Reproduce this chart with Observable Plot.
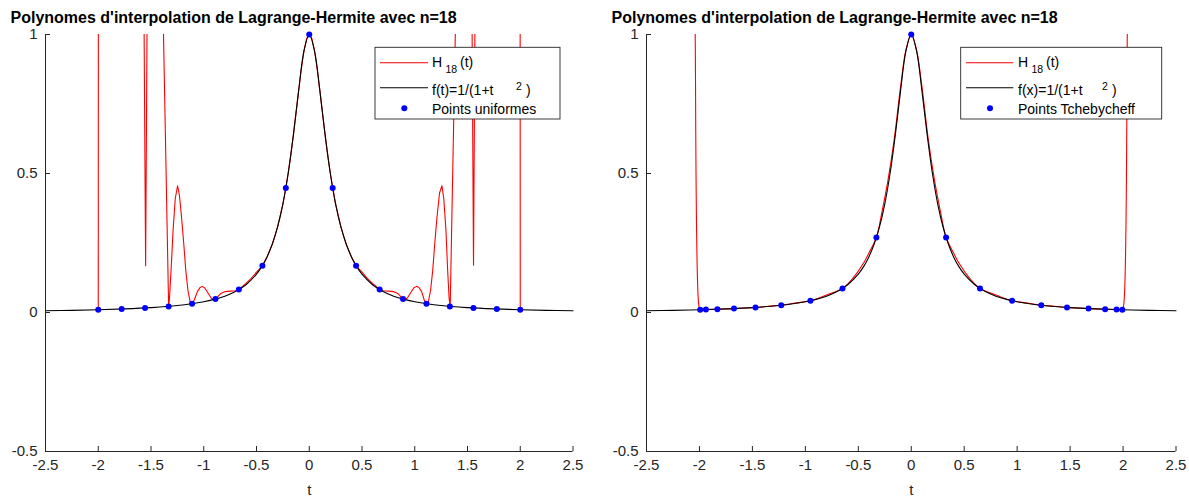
<!DOCTYPE html>
<html>
<head>
<meta charset="utf-8">
<script src="https://cdn.jsdelivr.net/npm/d3@7"></script>
<script src="https://cdn.jsdelivr.net/npm/@observablehq/plot@0.6"></script>
<style>
  body { margin: 0; background: #fff; }
  #wrap { position: relative; width: 1189px; height: 497px; overflow: hidden; background: #fff; }
  .panel { position: absolute; top: 0; }
</style>
</head>
<body>
<div id="wrap"></div>
<script>
// ---------- text ----------
const titleText = "Polynomes d'interpolation de Lagrange-Hermite avec n=18";
const xLabel = "t";
const xTicks = [-2.5, -2, -1.5, -1, -0.5, 0, 0.5, 1, 1.5, 2, 2.5];
const yTicks = [-0.5, 0, 0.5, 1];
const legendH = ["H", "18", "(t)"];
const legendFLeft = ["f(t)=1/(1+t", "2", ")"];
const legendFRight = ["f(x)=1/(1+t", "2", ")"];
const legendPtsLeft = "Points uniformes";
const legendPtsRight = "Points Tchebycheff";

// ---------- black curve f(t) ----------
const fT = [-2.5, -2.25, -2, -1.75, -1.5, -1.25, -1, -0.9, -0.8, -0.7, -0.6, -0.5, -0.45, -0.4, -0.35, -0.3, -0.25, -0.2, -0.15, -0.1, -0.05, 0,
            0.05, 0.1, 0.15, 0.2, 0.25, 0.3, 0.35, 0.4, 0.45, 0.5, 0.6, 0.7, 0.8, 0.9, 1, 1.25, 1.5, 1.75, 2, 2.25, 2.5];
const fY = [0.0064, 0.0078, 0.0099, 0.0129, 0.0175, 0.0250, 0.0385, 0.0471, 0.0588, 0.0755, 0.1000, 0.1379, 0.1649, 0.2000, 0.2462, 0.3077, 0.3902, 0.5000, 0.6400, 0.8000, 0.9412, 1.0000,
            0.9412, 0.8000, 0.6400, 0.5000, 0.3902, 0.3077, 0.2462, 0.2000, 0.1649, 0.1379, 0.1000, 0.0755, 0.0588, 0.0471, 0.0385, 0.0250, 0.0175, 0.0129, 0.0099, 0.0078, 0.0064];

// ---------- left: uniform nodes ----------
const uniT = [-2, -1.778, -1.556, -1.333, -1.111, -0.889, -0.667, -0.444, -0.222, 0, 0.222, 0.444, 0.667, 0.889, 1.111, 1.333, 1.556, 1.778, 2];
const uniY = [0.0099, 0.0125, 0.0163, 0.0220, 0.0314, 0.0482, 0.0826, 0.1685, 0.4475, 1, 0.4475, 0.1685, 0.0826, 0.0482, 0.0314, 0.0220, 0.0163, 0.0125, 0.0099];

// ---------- left: H18 (values above 1 are off the chart) ----------
const redLT = [-2.000, -1.999, -1.566, -1.551, -1.537, -1.384, -1.333, -1.325, -1.310, -1.290, -1.270, -1.248, -1.230, -1.210, -1.190, -1.170, -1.150, -1.130, -1.111,
               -1.090, -1.060, -1.035, -1.014, -0.990, -0.960, -0.930, -0.905, -0.889, -0.870, -0.840, -0.800, -0.750, -0.700, -0.667, -0.600, -0.550, -0.500, -0.444,
               -0.400, -0.350, -0.300, -0.250, -0.222, -0.200, -0.175, -0.150, -0.125, -0.100, -0.075, -0.050, -0.025, 0,
               0.025, 0.050, 0.075, 0.100, 0.125, 0.150, 0.175, 0.200, 0.222, 0.250, 0.300, 0.350, 0.400, 0.444, 0.500, 0.550, 0.600, 0.667,
               0.700, 0.750, 0.800, 0.840, 0.870, 0.889, 0.905, 0.930, 0.960, 0.990, 1.017, 1.040, 1.065, 1.090, 1.111, 1.130, 1.150, 1.170, 1.190, 1.210, 1.235,
               1.258, 1.275, 1.295, 1.312, 1.326, 1.336, 1.387, 1.543, 1.557, 1.571, 1.999, 2.000];
const redLY = [0.0099, 1.05, 1.05, 0.168, 1.05, 1.05, 0.022, 0.05, 0.15, 0.30, 0.41, 0.456, 0.42, 0.34, 0.25, 0.15, 0.08, 0.04, 0.031,
               0.045, 0.075, 0.090, 0.094, 0.088, 0.070, 0.052, 0.046, 0.048, 0.056, 0.068, 0.075, 0.077, 0.078, 0.083, 0.105, 0.123, 0.145, 0.168,
               0.200, 0.246, 0.308, 0.390, 0.448, 0.500, 0.566, 0.640, 0.719, 0.800, 0.877, 0.941, 0.985, 1.000,
               0.985, 0.941, 0.877, 0.800, 0.719, 0.640, 0.566, 0.500, 0.448, 0.390, 0.308, 0.246, 0.200, 0.168, 0.145, 0.123, 0.105, 0.083,
               0.078, 0.077, 0.075, 0.068, 0.056, 0.048, 0.046, 0.052, 0.070, 0.088, 0.094, 0.090, 0.075, 0.045, 0.031, 0.04, 0.08, 0.15, 0.25, 0.34, 0.43,
               0.456, 0.41, 0.30, 0.15, 0.05, 0.021, 1.05, 1.05, 0.170, 1.05, 1.05, 0.0099];

// ---------- right: Chebyshev nodes ----------
const chebT = [-1.993, -1.939, -1.831, -1.674, -1.471, -1.228, -0.952, -0.649, -0.329, 0, 0.329, 0.649, 0.952, 1.228, 1.471, 1.674, 1.831, 1.939, 1.993];
const chebY = [0.0100, 0.0105, 0.0118, 0.0141, 0.0182, 0.0258, 0.0423, 0.0867, 0.2698, 1, 0.2698, 0.0867, 0.0423, 0.0258, 0.0182, 0.0141, 0.0118, 0.0105, 0.0100];

// ---------- right: H18 ----------
const redRT = [-2.045, -2.040, -2.007, -1.993, -1.939, -1.831, -1.674, -1.471, -1.350, -1.228, -1.100, -0.952, -0.800, -0.649, -0.550, -0.450, -0.400, -0.329, -0.280, -0.220, -0.160, -0.100, -0.050, 0,
               0.050, 0.100, 0.160, 0.220, 0.280, 0.329, 0.400, 0.450, 0.550, 0.649, 0.800, 0.952, 1.100, 1.228, 1.350, 1.471, 1.674, 1.831, 1.939, 1.993, 2.007, 2.040, 2.045];
const redRY = [1.2, 1.0, 0.03, 0.0100, 0.0105, 0.0118, 0.0141, 0.0182, 0.0225, 0.0258, 0.034, 0.0423, 0.063, 0.0867, 0.124, 0.178, 0.214, 0.270, 0.355, 0.475, 0.625, 0.815, 0.945, 1.0,
               0.945, 0.815, 0.625, 0.475, 0.355, 0.270, 0.214, 0.178, 0.124, 0.0867, 0.063, 0.0423, 0.034, 0.0258, 0.0225, 0.0182, 0.0141, 0.0118, 0.0105, 0.0100, 0.03, 1.0, 1.2];

const zip = (ts, ys) => ts.map((t, i) => ({t, y: ys[i]}));
const fData = zip(fT, fY);
const FONT = "'Liberation Sans', Arial, Helvetica, sans-serif";
const AX = "#262626";
const fmt = d => String(d);

function panel(cfg) {
  const svg = Plot.plot({
    width: cfg.width,
    height: 497,
    marginLeft: cfg.ml,
    marginRight: cfg.mr,
    marginTop: 34,
    marginBottom: 46,
    x: {domain: [-2.5, 2.5]},
    y: {domain: [-0.5, 1]},
    style: {fontFamily: FONT, fontSize: "15px", color: AX, background: "transparent", overflow: "visible"},
    marks: [
      Plot.line(cfg.red, {x: "t", y: "y", stroke: "#ff0000", strokeWidth: 1.1, curve: cfg.redCurve, clip: true}),
      Plot.line(fData, {x: "t", y: "y", stroke: "#000000", strokeWidth: 1.1, curve: "catmull-rom"}),
      Plot.dot(cfg.nodes, {x: "t", y: "y", r: 3, fill: "#0000ff"}),
      Plot.ruleX([-2.5], {stroke: AX, strokeWidth: 1}),
      Plot.ruleY([-0.5], {stroke: AX, strokeWidth: 1}),
      Plot.axisX({ticks: xTicks, tickSize: -5, tickPadding: 13, tickFormat: fmt, label: null, stroke: AX}),
      Plot.axisY({ticks: yTicks, tickSize: -5, tickPadding: 13, tickFormat: fmt, label: null, stroke: AX}),
      Plot.text([xLabel], {text: d => d, frameAnchor: "bottom", lineAnchor: "middle", dy: 39, fontSize: 15, fill: AX}),
      Plot.text([titleText], {text: d => d, frameAnchor: "top-left", lineAnchor: "middle", textAnchor: "start", dx: -35, dy: -17, fontSize: 16, fontWeight: "bold", fill: "#000"})
    ]
  });
  // legend
  const L = cfg.legend;
  const g = d3.select(svg).append("g").attr("font-family", FONT).attr("font-size", 14)
    .attr("fill", "#000").attr("text-anchor", "start");
  g.append("rect").attr("x", L.x).attr("y", 47.3).attr("width", L.w).attr("height", 71.7)
    .attr("fill", "#fff").attr("stroke", AX).attr("stroke-width", 0.9);
  g.append("line").attr("x1", L.l1).attr("x2", L.l2).attr("y1", 62.7).attr("y2", 62.7).attr("stroke", "#ff0000").attr("stroke-width", 1.1);
  g.append("line").attr("x1", L.l1).attr("x2", L.l2).attr("y1", 87.7).attr("y2", 87.7).attr("stroke", "#000").attr("stroke-width", 1.1);
  g.append("circle").attr("cx", L.dot).attr("cy", 108.3).attr("r", 3).attr("fill", "#0000ff");
  g.append("text").attr("x", L.tx).attr("y", 67).text(legendH[0]);
  g.append("text").attr("x", L.tx + 13.5).attr("y", 73).attr("font-size", 10.5).text(legendH[1]);
  g.append("text").attr("x", L.tx + 28).attr("y", 67).text(legendH[2]);
  g.append("text").attr("x", L.tx).attr("y", 95).text(L.f[0]);
  g.append("text").attr("x", L.tx + 84).attr("y", 89.5).attr("font-size", 10.5).text(L.f[1]);
  g.append("text").attr("x", L.tx + 94).attr("y", 95).text(L.f[2]);
  g.append("text").attr("x", L.tx).attr("y", 113.5).text(L.pts);

  const div = document.createElement("div");
  div.className = "panel";
  div.style.left = cfg.left + "px";
  div.appendChild(svg);
  document.getElementById("wrap").appendChild(div);
}

panel({
  left: 0, width: 595, ml: 45, mr: 22.5,
  red: zip(redLT, redLY), redCurve: "linear", nodes: zip(uniT, uniY),
  legend: {x: 375, w: 185, l1: 380, l2: 428, tx: 432, dot: 404.3, f: legendFLeft, pts: legendPtsLeft}
});
panel({
  left: 595, width: 594, ml: 51, mr: 13.5,
  red: zip(redRT, redRY), redCurve: "catmull-rom", nodes: zip(chebT, chebY),
  legend: {x: 365.7, w: 201, l1: 371, l2: 418.3, tx: 423, dot: 395, f: legendFRight, pts: legendPtsRight}
});
</script>
</body>
</html>
